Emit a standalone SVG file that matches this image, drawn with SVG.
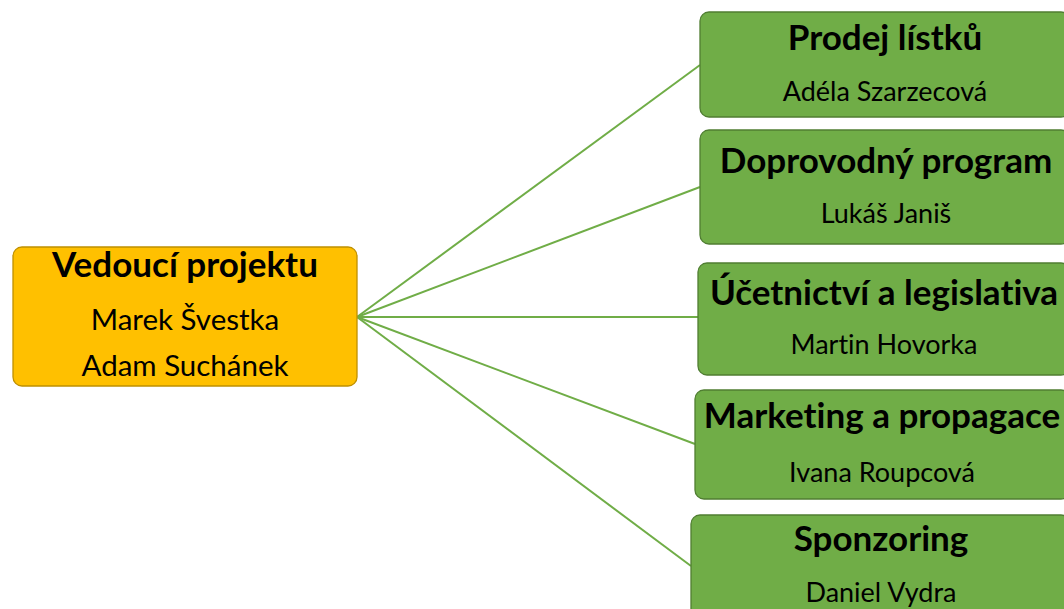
<svg xmlns="http://www.w3.org/2000/svg" width="1064" height="609" viewBox="0 0 1064 609">
  <style>
    .lead { fill: #FFC000; stroke: #BF9000; stroke-width: 1.3; }
    .team { fill: #70AD47; stroke: #507E32; stroke-width: 1.3; }
    text { font-family: Lato, "Liberation Sans", sans-serif; fill: #000; text-anchor: middle; font-variant-ligatures: none; font-feature-settings: "liga" 0, "dlig" 0; }
    .title { font-weight: bold; font-size: 35px; }
    .name { font-size: 27px; }
    .lead-name { font-size: 29.5px; }
    .link { stroke: #70AD47; stroke-width: 2; fill: none; }
  </style>
  <rect width="1064" height="609" fill="#fff"/>

  <!-- connectors from the project lead to each team -->
  <g id="connectors">
    <line class="link" x1="357" y1="317" x2="700" y2="65"/>
    <line class="link" x1="357" y1="317" x2="700" y2="187"/>
    <line class="link" x1="357" y1="317" x2="698" y2="317"/>
    <line class="link" x1="357" y1="317" x2="695" y2="444"/>
    <line class="link" x1="357" y1="317" x2="691" y2="566"/>
  </g>

  <g id="lead">
    <rect class="lead" x="13" y="247" width="344" height="139" rx="9"/>
    <text class="title" x="185" y="277">Vedoucí projektu</text>
    <text class="name lead-name" x="185" y="330">Marek Švestka</text>
    <text class="name lead-name" x="185" y="376">Adam Suchánek</text>
  </g>

  <g id="tickets">
    <rect class="team" x="700" y="12" width="370" height="105" rx="9"/>
    <text class="title" x="885" y="50">Prodej lístků</text>
    <text class="name" x="885" y="101">Adéla Szarzecová</text>
  </g>

  <g id="program">
    <rect class="team" x="700" y="130" width="370" height="114" rx="9"/>
    <text class="title" x="886" y="173">Doprovodný program</text>
    <text class="name" x="886" y="223">Lukáš Janiš</text>
  </g>

  <g id="accounting">
    <rect class="team" x="698" y="263" width="372" height="112" rx="9"/>
    <text class="title" x="884" y="305">Účetnictví a legislativa</text>
    <text class="name" x="884" y="354">Martin Hovorka</text>
  </g>

  <g id="marketing">
    <rect class="team" x="695" y="390" width="375" height="109" rx="9"/>
    <text class="title" x="882" y="428">Marketing a propagace</text>
    <text class="name" x="882" y="482">Ivana Roupcová</text>
  </g>

  <g id="sponsoring">
    <rect class="team" x="691" y="515" width="379" height="110" rx="9"/>
    <text class="title" x="881" y="551">Sponzoring</text>
    <text class="name" x="881" y="602">Daniel Vydra</text>
  </g>
</svg>
